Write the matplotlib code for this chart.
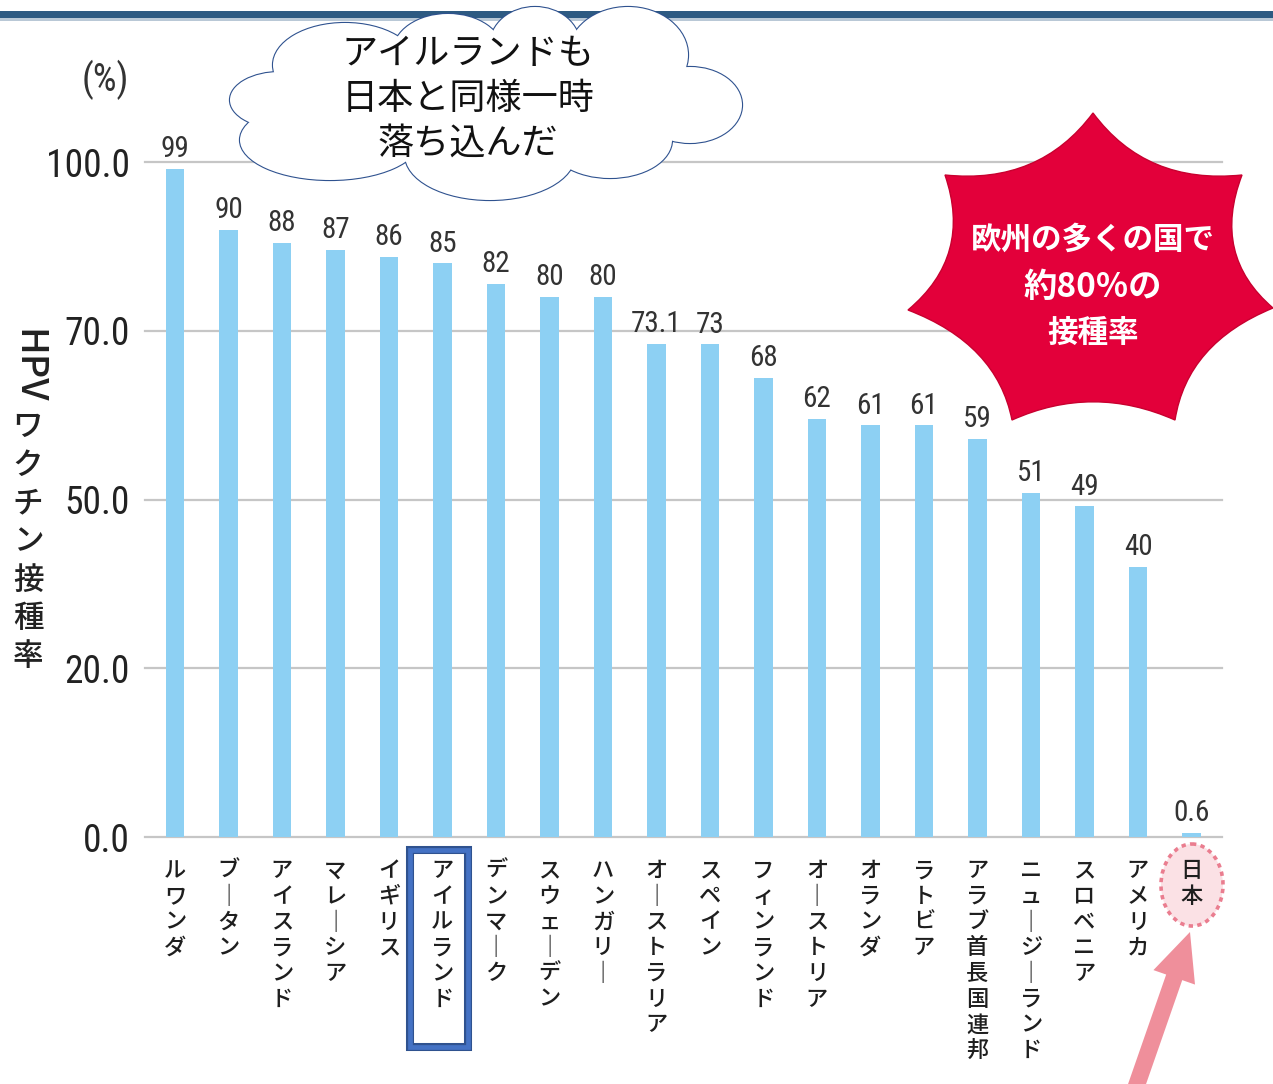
import matplotlib
matplotlib.use('Agg')
import matplotlib.pyplot as plt
from matplotlib import font_manager
from matplotlib.patches import Ellipse, Rectangle, PathPatch, FancyArrow
from matplotlib.path import Path
import numpy as np

# ---------------- data ----------------
countries = ["ルワンダ", "ブータン", "アイスランド", "マレーシア", "イギリス",
             "アイルランド", "デンマーク", "スウェーデン", "ハンガリー", "オーストラリア",
             "スペイン", "フィンランド", "オーストリア", "オランダ", "ラトビア",
             "アラブ首長国連邦", "ニュージーランド", "スロベニア", "アメリカ", "日本"]
rates = [99, 90, 88, 87, 86, 85, 82, 80, 80, 73.1,
         73, 68, 62, 61, 61, 59, 51, 49, 40, 0.6]
rate_labels = ["99", "90", "88", "87", "86", "85", "82", "80", "80", "73.1",
               "73", "68", "62", "61", "61", "59", "51", "49", "40", "0.6"]
ytick_values = [0, 25, 50, 75, 100]
ytick_labels = ["0.0", "20.0", "50.0", "70.0", "100.0"]
cloud_lines = ["アイルランドも", "日本と同様一時", "落ち込んだ"]
burst_lines = ["欧州の多くの国で", "約80%の", "接種率"]
ylabel_latin = "HPV"
ylabel_jp = "ワクチン接種率"
unit_label = "(%)"

# ---------------- fonts ----------------
avail = {f.name for f in font_manager.fontManager.ttflist}
def pick(*names):
    for n in names:
        if n in avail:
            return n
    return 'DejaVu Sans'
NARROW = pick('Liberation Sans Narrow', 'Roboto Condensed', 'Liberation Sans')
JP = 'Noto Sans CJK JP'
plt.rcParams['font.family'] = [JP, 'DejaVu Sans']

W, H = 1273, 1084
fig = plt.figure(figsize=(W / 100, H / 100), dpi=100)
fig.patch.set_facecolor('white')

# background overlay (below main axes)
ovb = fig.add_axes([0, 0, 1, 1], zorder=0)
ovb.set_xlim(0, W); ovb.set_ylim(H, 0); ovb.axis('off')

# main axes
ax = fig.add_axes([145 / W, 1 - 837 / H, (1222 - 145) / W, (837 - 162) / H], zorder=1)
ax.set_facecolor('none')
x = np.arange(len(countries))
ax.bar(x, rates, width=0.34, color='#8dd0f3', zorder=2)
ax.set_xlim(-0.56, 19.57)
ax.set_ylim(0, 100)
for v in ytick_values:
    ax.axhline(v, color='#c6c6c6', lw=1.6, zorder=1, clip_on=False)
for s in ax.spines.values():
    s.set_visible(False)
ax.set_yticks(ytick_values, labels=ytick_labels)
ax.tick_params(axis='y', length=0, pad=11, labelsize=27, labelcolor='#222222')
for lbl in ax.get_yticklabels():
    lbl.set_fontfamily(NARROW)

def vert(name):
    return "\n".join('｜' if ch == 'ー' else ch for ch in name)

ax.set_xticks(x, labels=[vert(c) for c in countries])
ax.tick_params(axis='x', length=0, pad=16, labelsize=16, labelcolor='#1e1e1e')
for lbl in ax.get_xticklabels():
    lbl.set_fontfamily([JP, 'DejaVu Sans'])
    lbl.set_fontweight('medium')
    lbl.set_linespacing(1.15)
    lbl.set_verticalalignment('top')

for xi, v, t in zip(x, rates, rate_labels):
    ax.annotate(t, (xi, v), xytext=(0, 4), textcoords='offset points',
                ha='center', va='bottom', fontsize=21, family=NARROW,
                color='#333333', annotation_clip=False)

# Japan dotted ellipse (behind tick label)
ovb.add_patch(Ellipse((1192, 885), 62, 82, facecolor='#fbe1e5', edgecolor='#ea7d8f',
                      lw=2.6, linestyle=(0, (1.2, 1.2))))

# front overlay
ov = fig.add_axes([0, 0, 1, 1], zorder=3)
ov.set_xlim(0, W); ov.set_ylim(H, 0); ov.axis('off')

# top bar
ov.add_patch(Rectangle((0, 11), W, 7, facecolor='#2d5a82', edgecolor='none'))
ov.add_patch(Rectangle((0, 18), W, 3, facecolor='#b9c8d6', edgecolor='none'))

# unit label and y label
ov.text(105, 80, unit_label, ha='center', va='center', fontsize=27,
        family=NARROW, color='#333333')
ov.text(28, 366, ylabel_latin, rotation=-90, ha='center', va='center',
        fontsize=27, color='#222222', fontweight='medium')
ov.text(28, 412, "\n".join(ylabel_jp), ha='center', va='top', fontsize=22,
        color='#222222', linespacing=1.3, fontweight='medium')

# cloud callout
lobes = [(280, 100, 50, 28), (345, 65, 72, 42), (448, 52, 55, 38), (535, 45, 45, 38),
         (628, 55, 60, 48), (690, 105, 52, 38), (610, 140, 62, 38), (490, 155, 85, 45),
         (330, 140, 90, 40)]
for cx, cy, rx, ry in lobes:
    ov.add_patch(Ellipse((cx, cy), 2 * rx, 2 * ry, facecolor='white',
                         edgecolor='#2f528f', lw=1.6, zorder=2))
for cx, cy, rx, ry in lobes:
    ov.add_patch(Ellipse((cx, cy), 2 * rx, 2 * ry, facecolor='white',
                         edgecolor='none', zorder=3))
ov.add_patch(Ellipse((485, 100), 400, 120, facecolor='white', edgecolor='none', zorder=3))
for i, (line, yy) in enumerate(zip(cloud_lines, [54, 99, 144])):
    ov.text(468, yy, line, ha='center', va='center', fontsize=26,
            color='#111111', zorder=4)

# starburst
C = np.array([1092, 290])
pts = np.array([(1093, 113), (1242, 175), (1273, 308), (1175, 420),
                (1012, 420), (908, 310), (945, 175)], float)
verts = [pts[0]]
codes = [Path.MOVETO]
n = len(pts)
for i in range(n):
    a, b = pts[i], pts[(i + 1) % n]
    mid = (a + b) / 2
    ctrl = mid + (C - mid) * 0.28
    verts += [ctrl, b]
    codes += [Path.CURVE3, Path.CURVE3]
verts.append(pts[0]); codes.append(Path.CLOSEPOLY)
ov.add_patch(PathPatch(Path(verts, codes), facecolor='#e3003a', edgecolor='#c8002f',
                       lw=1, zorder=2))
for line, yy, fs in zip(burst_lines, [240, 288, 333], [22, 24, 22]):
    ov.text(1093, yy, line, ha='center', va='center', fontsize=fs, color='white',
            fontweight='bold', zorder=4)

# blue box around Ireland
ov.add_patch(Rectangle((410, 850), 58, 197, facecolor='none', edgecolor='#2f528f',
                       lw=5.8, zorder=2))
ov.add_patch(Rectangle((410, 850), 58, 197, facecolor='none', edgecolor='#4472c4',
                       lw=3.4, zorder=3))

# pink arrow to Japan
ov.add_patch(FancyArrow(1128, 1110, 62, -178, width=17, head_width=44, head_length=48,
                        length_includes_head=True, facecolor='#ef8f9b',
                        edgecolor='none', zorder=2))

fig.savefig('out.png', dpi=100, facecolor='white')
